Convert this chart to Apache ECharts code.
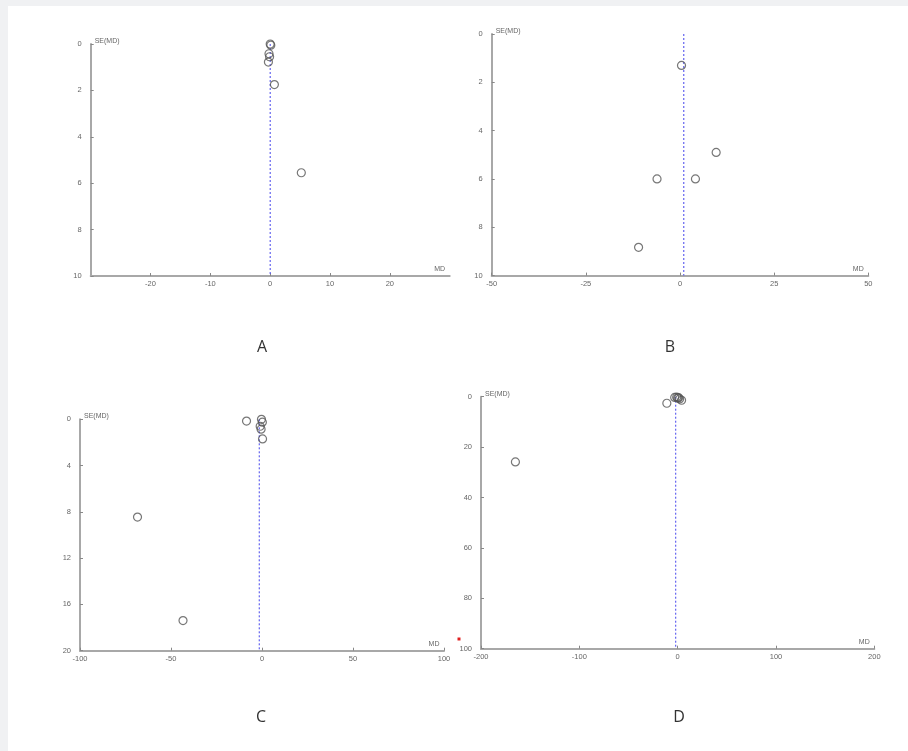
<!DOCTYPE html>
<html>
<head>
<meta charset="utf-8">
<script src="https://cdn.jsdelivr.net/npm/echarts@6/dist/echarts.min.js"></script>
<style>
  html, body { margin: 0; padding: 0; background: #f0f1f3; width: 908px; height: 751px; overflow: hidden; }
  #chart { position: absolute; left: 8px; top: 6px; width: 900px; height: 745px; background: #ffffff; }
</style>
</head>
<body>
<div id="chart"></div>
<script>
// ---- Data ----
const panelLabels = ['A', 'B', 'C', 'D'];

const aMD = [0, 0.1, -0.2, -0.1, -0.3, 0.7, 5.2];
const aSE = [0, 0.05, 0.42, 0.55, 0.78, 1.75, 5.55];
const aPooled = 0;

const bMD = [0.4, -6.1, 4.1, 9.6, -11];
const bSE = [1.3, 6.0, 6.0, 4.9, 8.83];
const bPooled = 1;

const cMD = [-8.5, -0.3, 0.2, -1.0, -0.5, 0.3, -68.4, -43.4];
const cSE = [0.15, 0.0, 0.25, 0.6, 0.85, 1.7, 8.45, 17.4];
const cPooled = -1.5;

const dMD = [-165, -11, -3, -1, 0, 1, 2, 4];
const dSE = [25.9, 2.6, 0.3, 0.2, 0.5, 0.4, 0.9, 1.4];
const dPooled = -2;

// axis ranges / ticks
const aX = { min: -30, max: 30, interval: 10 }, aY = { min: 0, max: 10, interval: 2 };
const bX = { min: -50, max: 50, interval: 25 }, bY = { min: 0, max: 10, interval: 2 };
const cX = { min: -100, max: 100, interval: 50 }, cY = { min: 0, max: 20, interval: 4 };
const dX = { min: -200, max: 200, interval: 100 }, dY = { min: 0, max: 100, interval: 20 };

// ---- Build chart ----
const chart = echarts.init(document.getElementById('chart'), null, { renderer: 'canvas' });

const grids = [
  { left: 82.7, top: 38, width: 359, height: 232 },
  { left: 483.7, top: 28, width: 376.6, height: 241.6 },
  { left: 72, top: 413.3, width: 364, height: 231.4 },
  { left: 473, top: 390.7, width: 393.3, height: 252 }
];

const xs = [aX, bX, cX, dX], ys = [aY, bY, cY, dY];
const mds = [aMD, bMD, cMD, dMD], ses = [aSE, bSE, cSE, dSE];
const pooled = [aPooled, bPooled, cPooled, dPooled];

const axisLineStyle = { color: '#a8a8a8', width: 2 };
const labelStyle = { fontSize: 7.5, color: '#666', fontFamily: 'Liberation Sans, Arial, sans-serif' };

const xAxis = xs.map((r, i) => ({
  type: 'value', gridIndex: i, min: r.min, max: r.max, interval: r.interval,
  splitLine: { show: false },
  axisLine: { show: true, onZero: false, lineStyle: axisLineStyle },
  axisTick: { show: true, inside: true, length: 3, lineStyle: { color: '#888', width: 1 } },
  axisLabel: Object.assign({
    margin: 4,
    showMinLabel: i !== 0, showMaxLabel: i !== 0,
    formatter: v => (i === 0 && Math.abs(v) === 30) ? '' : String(v)
  }, labelStyle),
  name: 'MD', nameLocation: 'end', nameGap: -10,
  nameTextStyle: { fontSize: 7, color: '#666', verticalAlign: 'bottom', align: 'center', padding: [0, 0, 3, 0] }
}));

const yAxis = ys.map((r, i) => ({
  type: 'value', gridIndex: i, min: r.min, max: r.max, interval: r.interval, inverse: true,
  splitLine: { show: false },
  axisLine: { show: true, onZero: false, lineStyle: axisLineStyle },
  axisTick: { show: true, inside: true, length: 3, lineStyle: { color: '#888', width: 1 } },
  axisLabel: Object.assign({ margin: 9 }, labelStyle),
  name: 'SE(MD)', nameLocation: 'start', nameGap: 3,
  nameTextStyle: { fontSize: 7, color: '#666', align: 'left', verticalAlign: 'middle', padding: [0, 0, 0, 4] }
}));

const series = [];
for (let i = 0; i < 4; i++) {
  series.push({
    type: 'line', xAxisIndex: i, yAxisIndex: i,
    data: [[pooled[i], ys[i].min], [pooled[i], ys[i].max]],
    symbol: 'none', silent: true,
    lineStyle: { color: '#5555ee', width: 1.1, type: [2, 2] },
    z: 1
  });
  series.push({
    type: 'scatter', xAxisIndex: i, yAxisIndex: i,
    data: mds[i].map((m, k) => [m, ses[i][k]]),
    symbol: 'circle', symbolSize: 8,
    itemStyle: { color: 'rgba(255,255,255,0)', borderColor: '#555', borderWidth: 1.2 },
    z: 2
  });
}

const letterPos = [[254, 341], [662, 341], [253, 711], [671, 711]];
const graphic = panelLabels.map((t, i) => ({
  type: 'text', x: letterPos[i][0], y: letterPos[i][1],
  style: { text: t, fill: '#333', font: '16px "Open Sans", "Liberation Sans", sans-serif', textAlign: 'center', textVerticalAlign: 'middle' }
}));
// small red artifact mark near panel C
graphic.push({ type: 'rect', x: 449.5, y: 631.5, shape: { width: 3, height: 3 }, style: { fill: '#e02020' } });

chart.setOption({
  backgroundColor: '#ffffff',
  animation: false,
  grid: grids,
  xAxis: xAxis,
  yAxis: yAxis,
  series: series,
  graphic: graphic
});
</script>
</body>
</html>
